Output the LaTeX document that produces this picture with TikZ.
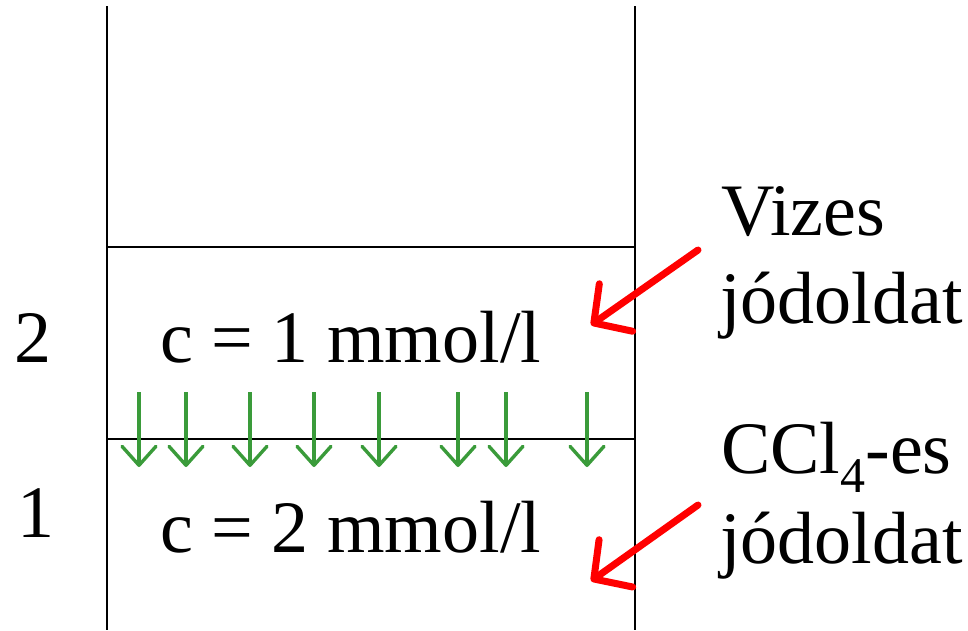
\documentclass[tikz,border=0pt]{standalone}
\usepackage{fontspec}
\setmainfont{Liberation Serif}
\usetikzlibrary{arrows.meta, positioning}
\definecolor{fluxgreen}{RGB}{58,155,58}
\definecolor{pointred}{RGB}{255,0,0}

\begin{document}
\begin{tikzpicture}[
    x=1pt, y=-1pt,
    wall/.style={draw=black, line width=1.8pt},
    interface/.style={draw=black, line width=1.4pt},
    txt/.style={inner sep=0pt, anchor=base west, font=\fontsize{74}{88}\selectfont},
    flux/.style={draw=fluxgreen, line width=3.4pt, -{Straight Barb[length=19pt, width=34pt, round]}},
    pointer/.style={draw=pointred, line width=7pt, line cap=round, -{Straight Barb[length=27pt, width=58pt, round]}}
]
\useasboundingbox (0,0) rectangle (968,630);

% cylinder walls and layer boundaries
\draw[wall] (107,6) -- (107,630);
\draw[wall] (635,6) -- (635,630);
\draw[interface] (107,247) -- (635,247);
\draw[interface] (107,439) -- (635,439);

% phase numbers and concentrations
\node[txt] (two) at (14,362) {2};
\node[txt] (one) at (17,537) {1};
\node[txt] (conctwo) at (160,362) {c = 1 mmol/l};
\node[txt] (concone) at (160,552) {c = 2 mmol/l};

% iodine passing into the lower phase
\foreach \x in {139,186,250,314,379,458,506,587}
    \draw[flux] (\x,392) -- (\x,467);

% phase names
\node[txt] (vizes) at (721,235) {Vizes};
\node[txt] (vizesjod) at (720,323) {jódoldat};
\node[txt] (ccl) at (721,473) {CCl\raisebox{-0.26em}{\fontsize{50}{50}\selectfont 4}-es};
\node[txt] (ccljod) at (720,563) {jódoldat};

\coordinate (vtail) at (698,250);
\coordinate (vtip) at (591,325);
\coordinate (ctail) at (698,505);
\coordinate (ctip) at (591,581);
\draw[pointer] (vtail) -- (vtip);
\draw[pointer] (ctail) -- (ctip);
\end{tikzpicture}
\end{document}
